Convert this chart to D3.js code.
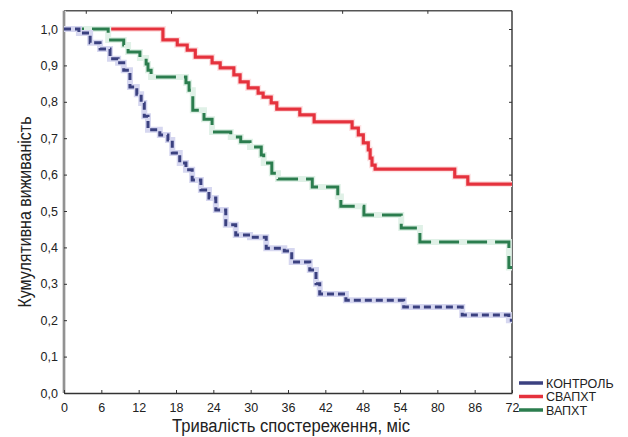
<!DOCTYPE html>
<html>
<head>
<meta charset="utf-8">
<script src="https://cdn.jsdelivr.net/npm/d3@7"></script>
<style>
  body { margin: 0; background: #fff; }
  svg text { font-family: "Liberation Sans", Arial, sans-serif; fill: #222; }
</style>
</head>
<body>
<div id="chart"></div>
<script>
const WIDTH = 628
const HEIGHT = 437

// axis ticks, labels as printed on the scan
const xTickValues = [0, 6, 12, 18, 24, 30, 36, 42, 48, 54, 60, 66, 72];
const xTickLabels = ["0", "6", "12", "18", "24", "30", "36", "42", "48", "54", "80", "86", "72"];
const topTickValues = [3.5, 17.2, 31.0, 44.7, 58.4];
const yTicks = [0, 0.1, 0.2, 0.3, 0.4, 0.5, 0.6, 0.7, 0.8, 0.9, 1.0];

const seriesNames = ["КОНТРОЛЬ", "СВАПХТ", "ВАПХТ"];

// Kaplan-Meier steps (months, cumulative survival)
const controlTime = [0, 2.4, 4.2, 5.8, 7.4, 8.7, 9.6, 10.6, 11.7, 12.4, 12.9, 13.5, 15.4, 16.7, 17.4, 18.6, 19.6, 20.6, 22.0, 23.3, 24.4, 26.0, 27.6, 29.9, 32.5, 35.4, 36.6, 39.5, 40.5, 41.1, 45.3, 54.6, 64.0, 71.5, 72];
const controlSurv = [1.0, 0.989, 0.962, 0.945, 0.918, 0.907, 0.887, 0.841, 0.821, 0.797, 0.760, 0.723, 0.709, 0.695, 0.659, 0.632, 0.613, 0.585, 0.558, 0.536, 0.503, 0.462, 0.434, 0.428, 0.398, 0.390, 0.360, 0.338, 0.300, 0.272, 0.255, 0.236, 0.214, 0.200, 0.200];

const svalhtTime = [0, 15.9, 18.2, 19.8, 21.1, 23.8, 25.1, 27.3, 28.3, 29.6, 31.2, 32.0, 33.3, 34.2, 37.9, 40.2, 46.3, 47.3, 48.1, 48.9, 49.2, 49.5, 50.0, 62.8, 64.9, 72];
const svalhtSurv = [1.0, 0.970, 0.956, 0.942, 0.923, 0.907, 0.893, 0.874, 0.855, 0.838, 0.824, 0.813, 0.797, 0.780, 0.764, 0.745, 0.728, 0.709, 0.687, 0.668, 0.645, 0.626, 0.615, 0.594, 0.574, 0.574];

const valhtTime = [0, 7.1, 9.6, 10.3, 12.2, 13.2, 13.5, 14.0, 19.6, 20.1, 20.7, 22.5, 23.8, 26.8, 28.4, 29.9, 31.7, 32.1, 33.4, 34.4, 39.9, 44.0, 44.5, 48.2, 54.2, 57.2, 71.5, 72];
const valhtSurv = [1.0, 0.970, 0.956, 0.937, 0.920, 0.904, 0.887, 0.868, 0.852, 0.832, 0.777, 0.752, 0.717, 0.703, 0.690, 0.676, 0.654, 0.632, 0.604, 0.588, 0.566, 0.540, 0.513, 0.489, 0.453, 0.415, 0.345, 0.345];

const COLORS = ["#3b4180", "#e5323d", "#2b7d4e"];
const HALOS = ["#d6d7f0", "#fde3e4", "#e0f1e7"];
const DASHES = ["7,4", null, "20,8"];

var svg = d3.select("#chart").append("svg")
    .attr("width", WIDTH)
    .attr("height", HEIGHT);

var xScale = d3.scaleLinear().domain([0, 72]).range([64, 512]);
var yScale = d3.scaleLinear().domain([0, 1]).range([393, 29]);

const frameTop = yScale(1.05);

// frame
svg.append("line").attr("x1", 64).attr("x2", 512).attr("y1", frameTop).attr("y2", frameTop)
    .attr("stroke", "#555").attr("stroke-width", 1.4);
svg.append("line").attr("x1", 512).attr("x2", 512).attr("y1", frameTop).attr("y2", 393)
    .attr("stroke", "#333").attr("stroke-width", 1.4);
svg.append("line").attr("x1", 64).attr("x2", 64).attr("y1", frameTop).attr("y2", 393)
    .attr("stroke", "#d9d9d9").attr("stroke-width", 4);
svg.append("line").attr("x1", 64).attr("x2", 64).attr("y1", frameTop).attr("y2", 393)
    .attr("stroke", "#7a7a7a").attr("stroke-width", 1.5);

// bottom axis
var xAxis = svg.append("g")
    .attr("transform", "translate(0,393)")
    .call(d3.axisBottom(xScale)
        .tickValues(xTickValues)
        .tickFormat((d, i) => xTickLabels[i])
        .tickSizeInner(-3)
        .tickSizeOuter(0)
        .tickPadding(10));
xAxis.select(".domain").attr("stroke", "#333").attr("stroke-width", 1.4);
xAxis.selectAll(".tick line").attr("stroke", "#333");
xAxis.selectAll("text").attr("font-size", "12.5px").style("font-family", "Liberation Sans, Arial, sans-serif");

// left axis
var yAxis = svg.append("g")
    .attr("transform", "translate(64,0)")
    .call(d3.axisLeft(yScale)
        .tickValues(yTicks)
        .tickFormat(d => d.toFixed(1).replace(".", ","))
        .tickSizeInner(-3)
        .tickSizeOuter(0)
        .tickPadding(6));
yAxis.select(".domain").remove();
yAxis.selectAll(".tick line").attr("stroke", "#333");
yAxis.selectAll("text").attr("font-size", "12.5px").style("font-family", "Liberation Sans, Arial, sans-serif");

// right and top ticks
var rAxis = svg.append("g")
    .attr("transform", "translate(512,0)")
    .call(d3.axisRight(yScale).tickValues(yTicks).tickFormat("").tickSizeInner(-3).tickSizeOuter(0));
rAxis.select(".domain").remove();
rAxis.selectAll(".tick line").attr("stroke", "#333");

var tAxis = svg.append("g")
    .attr("transform", `translate(0,${frameTop})`)
    .call(d3.axisTop(xScale).tickValues(topTickValues).tickFormat("").tickSizeInner(-3).tickSizeOuter(0));
tAxis.select(".domain").remove();
tAxis.selectAll(".tick line").attr("stroke", "#333");

// curves
var line = d3.line()
    .x(d => xScale(d[0]))
    .y(d => yScale(d[1]))
    .curve(d3.curveStepAfter);

const series = [
    d3.zip(controlTime, controlSurv),
    d3.zip(svalhtTime, svalhtSurv),
    d3.zip(valhtTime, valhtSurv)
];

// draw red, green, then control on top
[1, 2, 0].forEach(i => {
    svg.append("path")
        .datum(series[i])
        .attr("fill", "none")
        .attr("stroke", HALOS[i])
        .attr("stroke-width", 6)
        .attr("d", line);
    svg.append("path")
        .datum(series[i])
        .attr("fill", "none")
        .attr("stroke", COLORS[i])
        .attr("stroke-width", i == 1 ? 3.2 : 3)
        .attr("stroke-dasharray", DASHES[i])
        .attr("d", line);
});

// legend
var legendItems = svg.append("g")
    .selectAll("g")
    .data(seriesNames)
    .enter()
    .append("g")
    .attr("transform", (d, i) => `translate(519,${383 + i * 13.5})`);

legendItems.append("line")
    .attr("x1", 0).attr("x2", 24)
    .attr("stroke", (d, i) => COLORS[i])
    .attr("stroke-width", 3.5);

legendItems.append("text")
    .attr("x", 27)
    .attr("dy", "0.36em")
    .attr("font-size", "12.5px")
    .text(d => d);

// axis titles
svg.append("text")
    .attr("x", 291)
    .attr("y", 432)
    .attr("text-anchor", "middle")
    .attr("font-size", "18px")
    .attr("textLength", 238)
    .attr("lengthAdjust", "spacingAndGlyphs")
    .text("Тривалість спостереження, міс");

svg.append("text")
    .attr("transform", "translate(31,212) rotate(-90)")
    .attr("text-anchor", "middle")
    .attr("font-size", "18px")
    .attr("textLength", 191)
    .attr("lengthAdjust", "spacingAndGlyphs")
    .text("Кумулятивна виживаність");
</script>
</body>
</html>
